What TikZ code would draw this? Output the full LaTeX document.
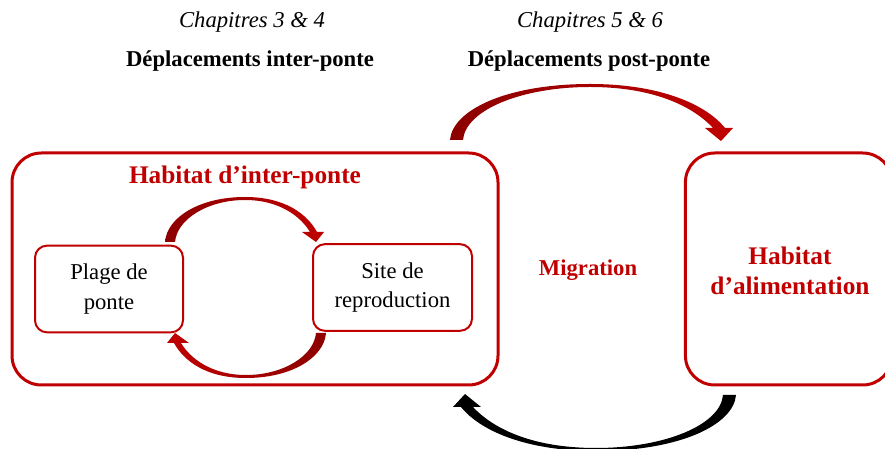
\documentclass[tikz,border=0pt]{standalone}
\usepackage{fontspec}
\setmainfont{Liberation Serif}
\definecolor{rougeppt}{RGB}{192,0,0}
\definecolor{rougefonce}{RGB}{140,0,0}

\tikzset{
	pics/grandefleche/.style={code={
		\path[pic actions] (-6.5,0) .. controls (-4,30) and (50,56) .. (133.5,56) .. controls (205,56) and (250,35) .. (268.5,12) -- (276.5,12) -- (264.5,-1) -- (248.5,12) -- (256.5,12) .. controls (238,32) and (200,53) .. (133.5,53) .. controls (65,53) and (9,30) .. (6.5,0) -- cycle;
	}},
	pics/petitefleche/.style={code={
		\path[pic actions] (-5,0) .. controls (-3,25) and (30,45) .. (75,45) .. controls (115,45) and (137,28) .. (147,10) -- (154,10) -- (146,0) -- (132,10) -- (140,10) .. controls (131,25) and (110,42) .. (75,42) .. controls (38,42) and (7,23) .. (5,0) -- cycle;
	}}
}

\begin{document}
\begin{tikzpicture}[x=0.75pt, y=0.75pt,
		texte/.style={font=\fontsize{17}{22}\selectfont, align=center, inner sep=0pt},
		grandtexte/.style={font=\fontsize{19}{22.5}\selectfont\bfseries, align=center, inner sep=0pt, text=rougeppt},
		grandeboite/.style={draw=rougeppt, line width=2.25pt, rounded corners=22pt, minimum height=174pt, inner sep=0pt},
		petiteboite/.style={draw=rougeppt, line width=1.5pt, rounded corners=9pt, minimum height=65pt, inner sep=0pt, texte}]
	\useasboundingbox (0,0) rectangle (885,449);
	\clip (0,0) rectangle (885,449);

	% titres des chapitres
	\node[texte, font=\fontsize{17}{22}\selectfont\itshape] (chap34) at (252,427) {Chapitres 3 \& 4};
	\node[texte, font=\fontsize{17}{22}\selectfont\bfseries] (depinter) at (250,388) {Déplacements inter-ponte};
	\node[texte, font=\fontsize{17}{22}\selectfont\itshape] (chap56) at (590,427) {Chapitres 5 \& 6};
	\node[texte, font=\fontsize{17}{22}\selectfont\bfseries] (deppost) at (589,388) {Déplacements post-ponte};

	% habitats
	\node[grandeboite, minimum width=364.5pt] (inter) at (255,180) {};
	\node[grandeboite, minimum width=155pt] (alim) at (788.75,180) {};
	\node[grandtexte] (titreinter) at (245,272) {Habitat d’inter-ponte};
	\node[grandtexte] (titrealim) at (790,178) {Habitat\\d’alimentation};
	\node[texte, font=\fontsize{17}{22}\selectfont\bfseries, text=rougeppt] (migration) at (588,179) {Migration};

	% sites dans l'habitat d'inter-ponte
	\node[petiteboite, minimum width=111pt] (plage) at (109,160) {Plage de\\ponte};
	\node[petiteboite, minimum width=119.25pt] (site) at (392.5,161.5) {Site de\\reproduction};

	% fleches
	\coordinate (aller) at (456.5,309);
	\coordinate (retour) at (729.5,54);
	\coordinate (versite) at (170,207);
	\coordinate (versplage) at (321,116);
	\pic[left color=rougefonce, right color=rougeppt] at (aller) {grandefleche};
	\pic[rotate=180, fill=black] at (retour) {grandefleche};
	\pic[left color=rougefonce, right color=rougeppt] at (versite) {petitefleche};
	\pic[rotate=180, left color=rougeppt, right color=rougefonce] at (versplage) {petitefleche};
\end{tikzpicture}
\end{document}
